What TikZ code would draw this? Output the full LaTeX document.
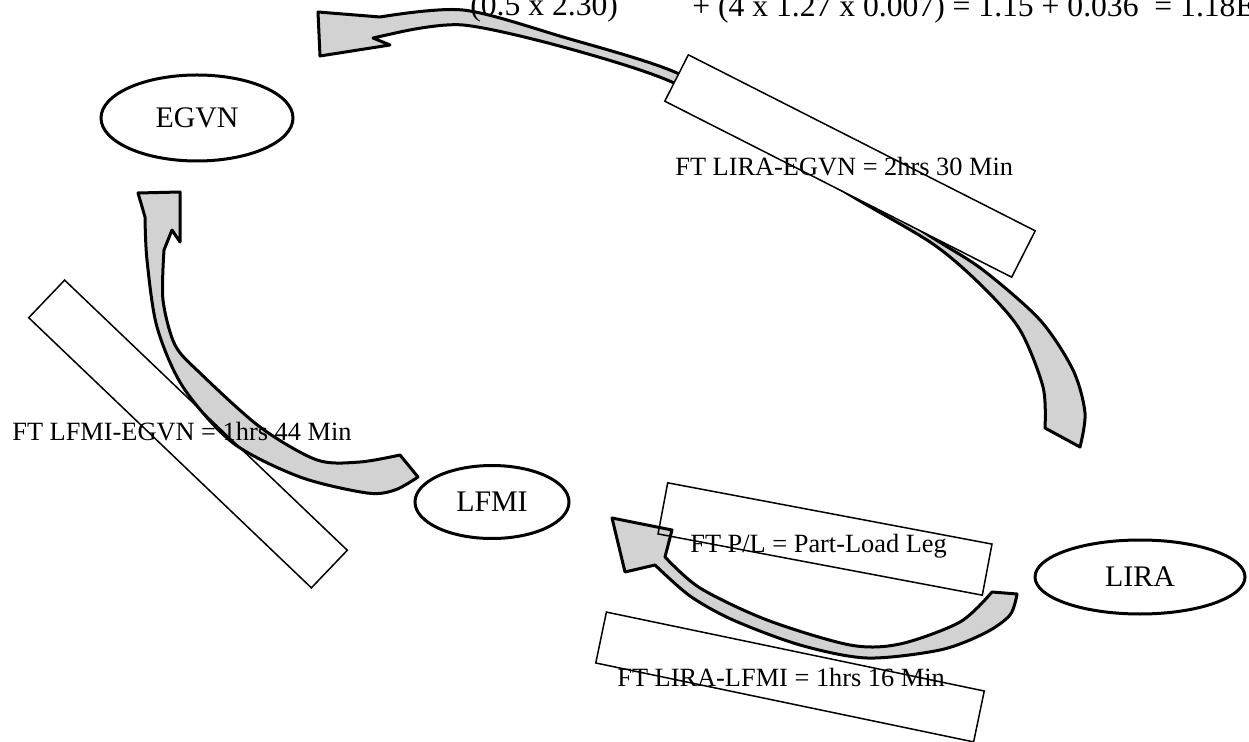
\documentclass[tikz,border=0pt]{standalone}
\usepackage{fontspec}
\setmainfont{Liberation Serif}
\usetikzlibrary{shapes.geometric}

\begin{document}
\begin{tikzpicture}[
    x=0.2mm, y=-0.2mm,
    place/.style={draw, ellipse, line width=0.6mm, inner sep=0pt, font=\fontsize{17}{20}\selectfont},
    legbox/.style={draw, line width=0.3mm, inner sep=0pt, minimum height=10.4mm},
    leglabel/.style={anchor=base west, inner sep=0pt, font=\fontsize{15}{18}\selectfont},
    bigarrow/.style={draw=black, fill=gray!35, line width=0.6mm, line join=round}
]
\useasboundingbox (0,0) rectangle (1249,742);
\clip (0,0) rectangle (1249,742);

% stations
\node[place, minimum width=38.4mm, minimum height=17.2mm] (egvn) at (197,118) {EGVN};
\node[place, minimum width=30.8mm, minimum height=14.6mm] (lfmi) at (492,502) {LFMI};
\node[place, minimum width=42mm, minimum height=14.8mm] (lira) at (1140,577) {LIRA};

% LIRA -> EGVN
\filldraw[bigarrow] (1045,428) -- (1080,447)
  -- plot[smooth] coordinates {(1080,447) (1085,413) (1073,370) (1040,320) (983,270) (933,238) (850,185) (760,125) (677,73) (563,37) (463,10) (380,17)}
  -- (318,12) -- (320,56) -- (390,45) -- (373,38)
  -- plot[smooth] coordinates {(400,32) (463,25) (563,47) (674,83) (760,138) (850,195) (933,244) (983,287) (1020,330) (1043,387) (1045,428)}
  -- cycle;

% LFMI -> EGVN
\filldraw[bigarrow] (400,455) -- (418,477)
  -- plot[smooth] coordinates {(418,477) (395,490) (367,493) (300,477) (233,443) (183,387) (157,327) (147,260) (145,217)}
  -- (138,193) -- (180,192) -- (180,242) -- (172,230)
  -- plot[smooth] coordinates {(164,250) (163,300) (175,345) (200,373) (260,427) (317,460) (360,462) (400,455)}
  -- cycle;

% LIRA -> LFMI
\filldraw[bigarrow] (992,592) -- (1017,594)
  -- plot[smooth] coordinates {(1017,594) (1010,615) (985,633) (940,650) (867,658) (800,645) (733,620) (690,596) (655,565)}
  -- (625,572) -- (612,518) -- (672,530) -- (665,557)
  -- plot[smooth] coordinates {(665,557) (700,588) (767,620) (850,645) (900,644) (960,622) (992,592)}
  -- cycle;

% leg boxes
\node[legbox, fill=white, minimum width=77.8mm, rotate=-26.9] (box-lira-egvn) at (850,166) {};
\node[legbox, minimum width=78.2mm, rotate=-43.7] (box-lfmi-egvn) at (188,434) {};
\node[legbox, minimum width=66mm, rotate=-10.7] (box-pl) at (825,539) {};
\node[legbox, minimum width=77.2mm, rotate=-11.8] (box-lira-lfmi) at (790,677) {};

% leg times
\node[leglabel] (ft-lira-egvn) at (675,176) {FT LIRA-EGVN = 2hrs 30 Min};
\node[leglabel] (ft-lfmi-egvn) at (12,441) {FT LFMI-EGVN = 1hrs 44 Min};
\node[leglabel] (ft-pl) at (690,552) {FT P/L = Part-Load Leg};
\node[leglabel] (ft-lira-lfmi) at (617,686) {FT LIRA-LFMI = 1hrs 16 Min};

% sum at the top, cut by the page
\node[leglabel, font=\fontsize{18}{22}\selectfont] (sum-a) at (470,16) {(0.5 x 2.30)};
\node[leglabel, font=\fontsize{18}{22}\selectfont] (sum-b) at (692,17) {+ (4 x 1.27 x 0.007) = 1.15 + 0.036\ \ = 1.18E};
\end{tikzpicture}
\end{document}
